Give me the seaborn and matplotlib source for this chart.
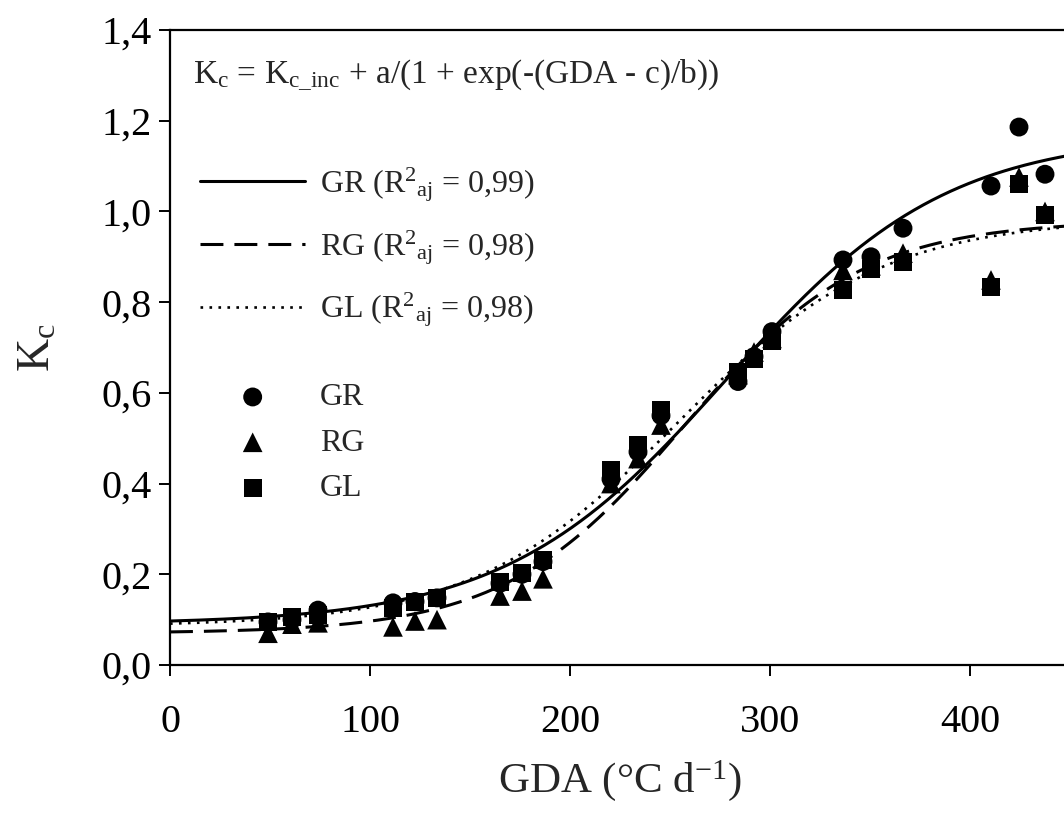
import numpy as np
import pandas as pd
import matplotlib
matplotlib.use("Agg")
import matplotlib.pyplot as plt
from matplotlib.ticker import FuncFormatter
import seaborn as sns

# Measured crop coefficients (Kc) against accumulated degree-days (GDA)
gda = [49, 61, 74, 111.5, 122.5, 133.5, 165, 176, 186.5, 220.5, 234, 245.5,
       284, 292, 301, 336.5, 350.5, 366.5, 410.5, 424.5, 437.5]
kc_gr = [0.095, 0.100, 0.121, 0.137, 0.140, 0.148, 0.180, 0.200, 0.228, 0.410, 0.470, 0.550,
         0.625, 0.680, 0.735, 0.893, 0.900, 0.963, 1.056, 1.186, 1.082]
kc_rg = [0.070, 0.090, 0.093, 0.084, 0.097, 0.100, 0.152, 0.163, 0.190, 0.400, 0.455, 0.529,
         0.640, 0.690, 0.720, 0.870, 0.880, 0.908, 0.849, 1.076, 1.000]
kc_gl = [0.095, 0.105, 0.110, 0.126, 0.139, 0.148, 0.183, 0.203, 0.231, 0.430, 0.485, 0.563,
         0.645, 0.675, 0.715, 0.827, 0.873, 0.888, 0.833, 1.060, 0.992]

# Sigmoid fits: Kc = Kc_inc + a / (1 + exp(-(GDA - c) / b))
fit_names = ["GR", "RG", "GL"]
fit_kc_inc = [0.090, 0.070, 0.085]
fit_a = [1.080, 0.910, 0.900]
fit_b = [55.2, 44.7, 51.1]
fit_c = [278.3, 256.6, 254.0]
fit_r2 = ["0,99", "0,98", "0,98"]

x_ticks = [0, 100, 200, 300, 400]
y_ticks = [0.0, 0.2, 0.4, 0.6, 0.8, 1.0, 1.2, 1.4]

sns.set_style("ticks")
plt.rcParams["font.family"] = ["Liberation Serif", "DejaVu Serif"]
plt.rcParams["mathtext.fontset"] = "custom"
plt.rcParams["mathtext.rm"] = "Liberation Serif"
plt.rcParams["mathtext.it"] = "Liberation Serif:italic"
plt.rcParams["mathtext.bf"] = "Liberation Serif:bold"
plt.rcParams["mathtext.default"] = "rm"

fig = plt.figure(figsize=(10.64, 8.18), dpi=100)
ax = fig.add_axes([170 / 1064, 153 / 818, 900 / 1064, 635 / 818])

# Fitted curves
x_fit = np.linspace(0, 450, 400)
curve_styles = {"GR": (None, 2.2), "RG": ((7.5, 3.6), 2.2), "GL": ((1, 2.4), 1.9)}
line_handles = []
for name, k0, a, b, c, r2 in zip(fit_names, fit_kc_inc, fit_a, fit_b, fit_c, fit_r2):
    y_fit = k0 + a / (1 + np.exp(-(x_fit - c) / b))
    dash, lw = curve_styles[name]
    sns.lineplot(x=x_fit, y=y_fit, ax=ax, color="black", linewidth=lw,
                 label=f"{name} (R$^{{2}}$$_{{\\mathrm{{aj}}}}$ = {r2})")
    ln = ax.lines[-1]
    if dash is not None:
        ln.set_dashes(dash)
    ln.set_dash_capstyle("butt")
    line_handles.append(ln)

# Observed points
df = pd.DataFrame({
    "GDA": gda * 3,
    "Kc": kc_gr + kc_rg + kc_gl,
    "trat": ["GR"] * len(gda) + ["RG"] * len(gda) + ["GL"] * len(gda),
})
marker_map = {"GR": ("o", 185), "RG": ("^", 200), "GL": ("s", 170)}
point_handles = []
for name in ["GR", "RG", "GL"]:
    sub = df[df["trat"] == name]
    mk, sz = marker_map[name]
    sns.scatterplot(data=sub, x="GDA", y="Kc", ax=ax, marker=mk, s=sz,
                    color="black", edgecolor="none", linewidth=0, label=name, zorder=3)
    point_handles.append(ax.collections[-1])

ax.set_xlim(0, 450)
ax.set_ylim(0, 1.4)
ax.set_xticks(x_ticks)
ax.set_yticks(y_ticks)
ax.xaxis.set_major_formatter(FuncFormatter(lambda v, p: f"{v:.0f}"))
ax.yaxis.set_major_formatter(FuncFormatter(lambda v, p: f"{v:.1f}".replace(".", ",")))
ax.tick_params(axis="both", direction="out", length=8, width=1.4, labelsize=29,
               color="black", labelcolor="black")
ax.tick_params(axis="x", pad=20)
ax.tick_params(axis="y", pad=5)

for side in ["left", "bottom", "top", "right"]:
    ax.spines[side].set_visible(True)
    ax.spines[side].set_linewidth(1.6)
    ax.spines[side].set_color("black")

ax.set_xlabel("GDA (°C d$^{\\mathrm{-1}}$)", fontsize=31, labelpad=12)
ax.set_ylabel("K$_{\\mathrm{c}}$", fontsize=33, labelpad=30)

ax.text(0.026, 0.929, "K$_{\\mathrm{c}}$ = K$_{\\mathrm{c\\_inc}}$ + a/(1 + exp(-(GDA - c)/b))",
        transform=ax.transAxes, fontsize=24, ha="left", va="center")

# Legend: fitted curves, then observed points
line_labels = [h.get_label() for h in line_handles]
leg1 = ax.legend(line_handles, line_labels, loc="center left",
                 bbox_to_anchor=(0.0333, 0.658), frameon=False, fontsize=23,
                 handlelength=3.3, handletextpad=0.45, labelspacing=0.75,
                 borderaxespad=0, borderpad=0)
ax.add_artist(leg1)
leg2 = ax.legend(point_handles, ["GR", "RG", "GL"], loc="center left",
                 bbox_to_anchor=(0.0333, 0.3496), frameon=False, fontsize=23,
                 handlelength=3.3, handletextpad=0.45, labelspacing=0.5,
                 borderaxespad=0, borderpad=0)

fig.savefig("out.png", dpi=100)
